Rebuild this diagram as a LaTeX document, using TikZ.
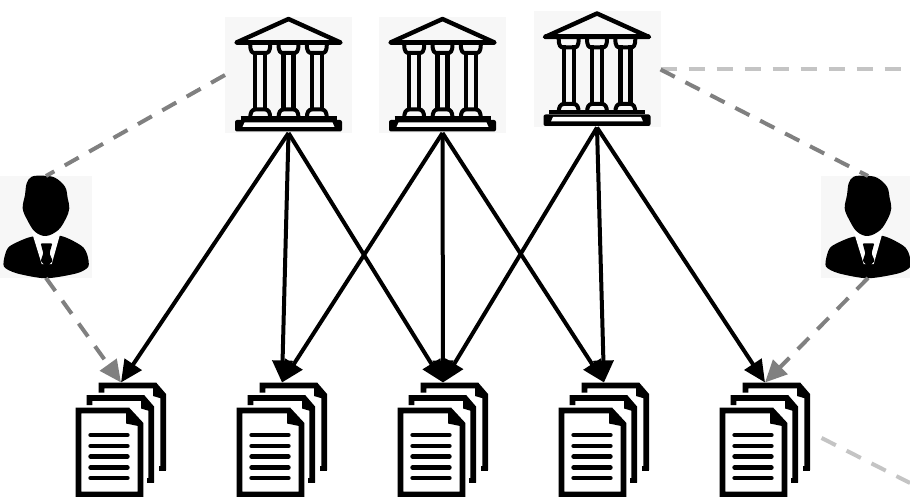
\documentclass[tikz,border=0pt]{standalone}
\usepackage{tikz}
\usetikzlibrary{arrows.meta}
\definecolor{IconTint}{HTML}{F7F7F7}
\definecolor{LinkGrey}{HTML}{808080}
\definecolor{PaleGrey}{HTML}{C4C4C4}
\tikzset{
    bankbox/.style={fill=IconTint, minimum width=127pt, minimum height=116pt, inner sep=0pt, outer sep=0pt},
    personbox/.style={minimum height=102pt, inner sep=0pt, outer sep=0pt},
    docbox/.style={minimum width=90pt, minimum height=115pt, inner sep=0pt, outer sep=0pt},
    solidlink/.style={line width=4pt, -{Triangle[length=22pt,width=20pt]}},
    greylink/.style={line width=4pt, draw=LinkGrey, dash pattern=on 16pt off 12pt},
    palelink/.style={line width=4pt, draw=PaleGrey, dash pattern=on 16pt off 12pt},
    bankicon/.pic={
        % Roof
        \draw[line width=4.4pt, line join=round] (-52,-32.5) -- (0,-56) -- (52,-32.5) -- cycle;
        \draw[line width=5pt, line cap=round] (-51,-32.5) -- (51,-32.5);
        % Columns
        \foreach \cx in {-28.3,0,28.3} {
            \draw[line width=4.4pt] (\cx-5,-24) -- (\cx-5,36);
            \draw[line width=4.4pt] (\cx+5,-24) -- (\cx+5,36);
            \draw[line width=4pt, line join=round] (\cx-10,-31) .. controls (\cx-10,-23) and (\cx-8,-22) .. (\cx-5,-22)
                -- (\cx+5,-22) .. controls (\cx+8,-22) and (\cx+10,-23) .. (\cx+10,-31);
            \draw[line width=4pt, line join=round] (\cx-10,43) .. controls (\cx-10,37) and (\cx-8,34.5) .. (\cx-5,34.5)
                -- (\cx+5,34.5) .. controls (\cx+8,34.5) and (\cx+10,37) .. (\cx+10,43);
        }
        % Steps
        \draw[line width=4pt] (-48,43) -- (48,43);
        \fill[black, rounded corners=2pt] (-53.5,45) rectangle (53.5,56.5);
        \fill[white] (-44,47.5) -- (44,47.5) -- (46,52) -- (-46,52) -- cycle;
    },
    personicon/.pic={
        % Jacket
        \fill[black] plot[smooth cycle, tension=0.45] coordinates {(-14.3,9.7) (-36,19) (-41,28) (-42,39.7) (-29.3,46.3) (-0.3,51.3) (30.7,46.3) (42.3,39.7) (41.3,28) (35.7,19) (15,9)};
        % Shirt
        \fill[white] (-14.5,4) -- (-4.3,37) -- (5.7,37) -- (15,4) -- cycle;
        % Head
        \fill[black] plot[smooth cycle, tension=0.6] coordinates {(-14.3,-50.3) (-2.7,-51.3) (9,-49.3) (19,-40.3) (21.7,-28.7) (23.3,-18.7) (20,-8.7) (12.3,3) (0,9) (-11,4.7) (-18.7,-7) (-23.3,-18.7) (-21,-32) (-19.3,-43.7)};
        % Tie
        \fill[black, rounded corners=1pt] (-5.3,16.3) -- (6.3,16.3) -- (3.5,26.3) -- (6.7,34) -- (0.7,40) -- (-5.3,34) -- (-2.7,26.3) -- cycle;
    },
    docicon/.pic={
        % Back pages
        \foreach \dx/\dy in {0/0,-12/12.5} {
            \draw[line width=5.6pt, line join=miter] (\dx-19.5,\dy-47.5) -- (\dx-19.5,\dy-54.5) -- (\dx+34,\dy-54.5) -- (\dx+42.2,\dy-45) -- (\dx+42.2,\dy+30);
            \fill[black] (\dx+32,\dy-54.5) -- (\dx+42.2,\dy-45) -- (\dx+42.2,\dy-41) -- (\dx+32,\dy-44) -- cycle;
            \fill[black] (\dx+38,\dy+25.5) rectangle (\dx+45,\dy+30.5);
        }
        % Front page
        \draw[line width=5.6pt, fill=white, line join=miter] (-42.5,-29.5) -- (7,-29.5) -- (19.5,-16) -- (19.5,54.5) -- (-42.5,54.5) -- cycle;
        \fill[black] (5,-29.5) -- (19.5,-16) -- (19.5,-13.5) -- (5,-16.5) -- cycle;
        % Text lines
        \foreach \ty in {-5,6,16.5,27.5,38}
            \draw[line width=4.4pt, line cap=round] (-30.5,\ty) -- (6.5,\ty);
    }
}
\begin{document}
\begin{tikzpicture}[x=1pt, y=-1pt]
    \useasboundingbox (0,0) rectangle (910,497);

    % Tinted backdrops of the two people
    \fill[IconTint] (0,176) rectangle (92,278);
    \fill[IconTint] (821,176) rectangle (910,278);

    % Banks
    \node[bankbox] (bank1) at (288.5,75) {};
    \node[bankbox] (bank2) at (442.5,75) {};
    \node[bankbox] (bank3) at (597,69.5) {};
    \pic at (bank1) {bankicon};
    \pic at (bank2) {bankicon};
    \pic at (bank3) {bankicon};

    % People
    \node[personbox, minimum width=92pt] (person1) at (46,227) {};
    \node[personbox, minimum width=84pt] (person2) at (868,227) {};
    \pic at (person1) {personicon};
    \pic at (person2) {personicon};

    % Documents
    \node[docbox] (doc1) at (121,440) {};
    \node[docbox] (doc2) at (282,440) {};
    \node[docbox] (doc3) at (443,440) {};
    \node[docbox] (doc4) at (604,440) {};
    \node[docbox] (doc5) at (765,440) {};
    \foreach \docname in {doc1,doc2,doc3,doc4,doc5}
        \pic at (\docname) {docicon};

    % Pale links leaving the picture
    \coordinate (exitTop) at (910,69.5);
    \coordinate (exitLow) at (910,483);
    \draw[palelink] (bank3.east) -- (exitTop);
    \draw[palelink, shorten <=13pt] (doc5.10) -- (exitLow);

    % Grey links
    \draw[greylink] (bank1.west) -- (person1.north);
    \draw[greylink] (bank3.east) -- (person2.north);
    \draw[greylink, -{Triangle[length=22pt,width=20pt]}] (person1.south) -- (doc1.north);
    \draw[greylink, -{Triangle[length=22pt,width=20pt]}] (person2.south) -- (doc5.north);

    % Bank to document
    \draw[solidlink] (bank1.south) -- (doc1.north);
    \draw[solidlink] (bank1.south) -- (doc2.north);
    \draw[solidlink] (bank1.south) -- (doc3.north);
    \draw[solidlink] (bank2.south) -- (doc2.north);
    \draw[solidlink] (bank2.south) -- (doc3.north);
    \draw[solidlink] (bank2.south) -- (doc4.north);
    \draw[solidlink] (bank3.south) -- (doc3.north);
    \draw[solidlink] (bank3.south) -- (doc4.north);
    \draw[solidlink] (bank3.south) -- (doc5.north);
\end{tikzpicture}
\end{document}
